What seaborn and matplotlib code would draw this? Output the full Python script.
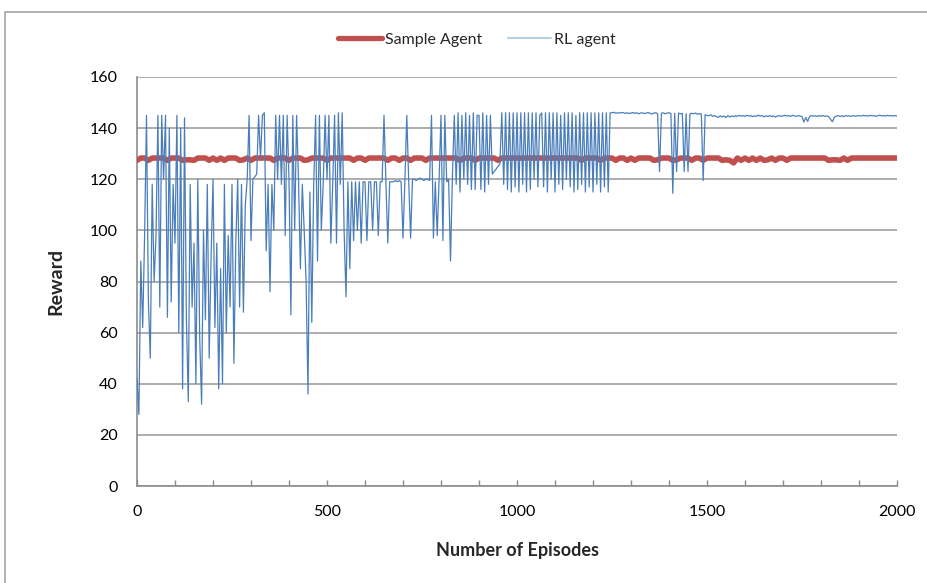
import numpy as np
import pandas as pd
import matplotlib
matplotlib.use("Agg")
import matplotlib.pyplot as plt
from matplotlib.patches import Rectangle
from matplotlib.lines import Line2D
import seaborn as sns

# RL agent reward, read every 5 episodes (one row = 100 episodes)
rl_episodes = list(range(0, 2001, 5))
rl_reward = [
    42, 28, 88, 62, 98, 145, 72, 50, 118, 80, 98, 145, 70, 145, 120, 145, 66, 140, 72, 118,
    95, 145, 60, 140, 38, 144, 65, 33, 118, 70, 95, 40, 120, 58, 32, 100, 65, 118, 50, 90,
    120, 62, 95, 38, 85, 40, 118, 60, 98, 70, 118, 48, 95, 120, 70, 118, 68, 110, 120, 145,
    96, 120, 121, 122, 145, 128, 145, 146, 92, 118, 76, 118, 100, 145, 120, 145, 118, 145, 98, 145,
    120, 67, 145, 100, 145, 120, 85, 118, 100, 80, 36, 115, 64, 118, 145, 88, 145, 100, 118, 145,
    120, 145, 95, 118, 145, 95, 146, 118, 146, 100, 74, 119, 85, 119, 96, 119, 100, 119, 95, 119,
    119, 96, 119, 119, 100, 119, 119, 98, 119, 119, 145, 119, 95, 119, 119, 119, 119.5, 119, 119.5, 119,
    97, 119.5, 145, 119.5, 97, 120, 120, 119.5, 120, 120.5, 120, 119.5, 120, 120, 119.5, 145, 97, 119, 98, 120,
    145, 96, 145, 119, 120, 88, 121, 145, 118, 146, 115, 145, 120, 146, 118, 145, 116, 146, 116, 145,
    145, 116, 146, 115, 145, 118, 145, 122, 123, 124, 125, 126, 146, 118, 146, 116, 146, 115, 146, 117,
    146, 115, 146, 118, 146, 115, 146, 116, 146, 120, 146, 117, 145, 146, 117, 146, 115, 146, 120, 146,
    115, 146, 118, 145, 116, 146, 120, 146, 117, 146, 115, 145, 116, 146, 118, 146, 115, 146, 117, 146,
    115, 146, 118, 146, 115, 146, 117, 146, 115, 146, 146, 146.2, 145.8, 146, 145.9, 146.1, 146, 145.8, 146, 145.7,
    145.9, 146.1, 145.8, 146, 145.6, 145.9, 146, 145.7, 145.9, 146.1, 145.8, 145.5, 145.9, 146, 145.7, 123, 145.8, 146, 145.6, 145.9,
    146, 145.7, 114.5, 145.8, 123, 145.9, 145.6, 145.8, 123, 145.7, 123, 145.5, 145.8, 145.6, 145.9, 145.4, 145.7, 145.5, 119.5, 145.2,
    145, 144.8, 145.2, 144.6, 144.9, 144.5, 144.2, 144.8, 144.4, 144.7, 144.1, 144.9, 144.3, 144.8, 144.5, 144.9, 144.6, 145, 144.7, 144.9,
    144.6, 145, 144.7, 144.9, 144.5, 144.8, 144.6, 145.1, 144.7, 144.9, 144.4, 144.8, 144.6, 144.9, 144.5, 144.8, 144.3, 144.7, 144.9, 144.6,
    144.8, 145, 144.7, 144.9, 144.6, 145, 144.8, 144.6, 144.9, 144.7, 144.5, 142.4, 144.2, 142.6, 144.6, 144.9, 144.7, 144.8, 144.6, 144.9,
    144.7, 144.9, 144.6, 144.8, 144.5, 143.5, 142.5, 144.2, 144.7, 144.9, 144.6, 144.8, 144.5, 144.9, 144.7, 144.8, 144.6, 144.9, 144.7, 144.8,
    144.9, 144.7, 145, 144.8, 144.9, 144.7, 145, 144.8, 144.9, 144.6, 144.9, 145, 144.8, 144.9, 144.7, 145, 144.8, 144.9, 144.7, 144.9,
    144.8,
]

# Sample agent reward, read every 10 episodes (one row = 100 episodes)
sample_episodes = list(range(0, 2001, 10))
sample_reward = [
    127.4, 128.3, 128.3, 127.4, 128.3, 128.3, 128.3, 128.3, 127.4, 128.3,
    128.3, 128.3, 127.4, 127.6, 127.6, 127.4, 128.3, 128.3, 128.3, 127.4,
    128.3, 127.4, 128.3, 127.4, 128.3, 128.3, 128.3, 127.4, 127.6, 128.3,
    127.4, 128.3, 128.3, 128.3, 128.3, 128.3, 127.4, 128.3, 128.3, 128.3,
    127.4, 128.3, 128.3, 128.3, 127.4, 127.6, 128.3, 128.3, 128.3, 128.3,
    127.4, 128.3, 128.3, 128.3, 128.3, 128.3, 128.3, 127.4, 128.3, 128.3,
    127.4, 128.3, 128.3, 128.3, 128.3, 128.3, 127.4, 128.3, 128.3, 127.4,
    128.3, 128.3, 127.4, 128.3, 128.3, 128.3, 127.4, 128.3, 128.3, 128.3,
    128.3, 128.3, 128.3, 128.3, 128.3, 127.4, 128.3, 128.3, 128.3, 127.4,
    128.3, 128.3, 128.3, 128.3, 128.3, 127.4, 128.3, 128.3, 128.3, 128.3,
    128.3, 128.3, 128.3, 128.3, 128.3, 128.3, 128.3, 128.3, 128.3, 128.3,
    128.3, 128.3, 128.3, 128.3, 128.3, 128.3, 128.3, 127.4, 128.3, 128.3,
    128.3, 128.3, 127.4, 128.3, 128.3, 128.3, 127.4, 128.3, 128.3, 127.4,
    128.3, 127.4, 128.3, 128.3, 128.3, 128.3, 127.4, 127.6, 128.3, 128.3,
    128.3, 127.4, 127.6, 128.3, 128.3, 128.3, 127.4, 128.3, 128.3, 127.4,
    128.3, 128.3, 128.3, 128.3, 127.4, 127.6, 127.4, 126.4, 128.3, 127.4,
    128.3, 127.4, 128.3, 127.4, 128.3, 127.4, 127.6, 128.3, 127.4, 128.3,
    128.3, 127.4, 128.3, 128.3, 128.3, 128.3, 128.3, 128.3, 128.3, 128.3,
    128.3, 128.3, 127.4, 127.6, 127.6, 127.4, 128.3, 127.4, 128.3, 128.3,
    128.3, 128.3, 128.3, 128.3, 128.3, 128.3, 128.3, 128.3, 128.3, 128.3,
    128.3,
]

y_ticks = [0, 20, 40, 60, 80, 100, 120, 140, 160]
x_ticks = [0, 500, 1000, 1500, 2000]

rl_df = pd.DataFrame({"episode": rl_episodes, "reward": rl_reward})
sample_df = pd.DataFrame({"episode": sample_episodes, "reward": sample_reward})

sns.set_theme(style="white")
plt.rcParams["font.family"] = ["Lato", "DejaVu Sans"]

fig = plt.figure(figsize=(9.27, 5.83), dpi=100)
ax = fig.add_axes([137 / 927, 1 - 486 / 583, 760 / 927, 409 / 583])

# outer chart frame
fig.patches.append(Rectangle((5 / 927, -0.05), 1.0, 1 - 12 / 583 + 0.05,
                             transform=fig.transFigure, fill=False,
                             edgecolor="#a6a6a6", linewidth=1.2))

sns.lineplot(data=sample_df, x="episode", y="reward", ax=ax, color="#c0504d",
             linewidth=4.0, zorder=3)
sns.lineplot(data=rl_df, x="episode", y="reward", ax=ax, color="#4a7ebb",
             linewidth=0.9, zorder=4)

ax.set_xlim(0, 2000)
ax.set_ylim(0, 160)
ax.set_yticks(y_ticks)
ax.set_xticks(x_ticks)
ax.set_xticks(range(0, 2001, 100), minor=True)
ax.yaxis.grid(True, color="#a0a0a0", linewidth=1.2)
ax.set_axisbelow(True)

for side in ["top", "right"]:
    ax.spines[side].set_visible(False)
for side in ["left", "bottom"]:
    ax.spines[side].set_color("#8c8c8c")
    ax.spines[side].set_linewidth(1.2)

ax.tick_params(axis="y", length=0, pad=14, labelsize=11.5, labelcolor="#000000")
ax.tick_params(axis="x", which="major", direction="in", length=4, width=1,
               color="#8c8c8c", pad=14, labelsize=11.5, labelcolor="#000000")
ax.tick_params(axis="x", which="minor", direction="in", length=4, width=1,
               color="#8c8c8c")
ax.xaxis.set_tick_params(which="both", bottom=True)

ax.set_xlabel("Number of Episodes", fontsize=13, fontweight="bold", labelpad=16)
ax.set_ylabel("Reward", fontsize=14, fontweight="bold", labelpad=18)

handles = [Line2D([], [], color="#c0504d", linewidth=3.8),
           Line2D([], [], color="#b9cde5", linewidth=1.5)]
fig.legend(handles, ["Sample Agent", "RL agent"], loc="center",
           bbox_to_anchor=(477 / 927, 1 - 40 / 583),
           ncol=2, frameon=False, fontsize=11.5, handlelength=2.7,
           handletextpad=0.2, columnspacing=1.6)

fig.savefig("out.png", dpi=100)
